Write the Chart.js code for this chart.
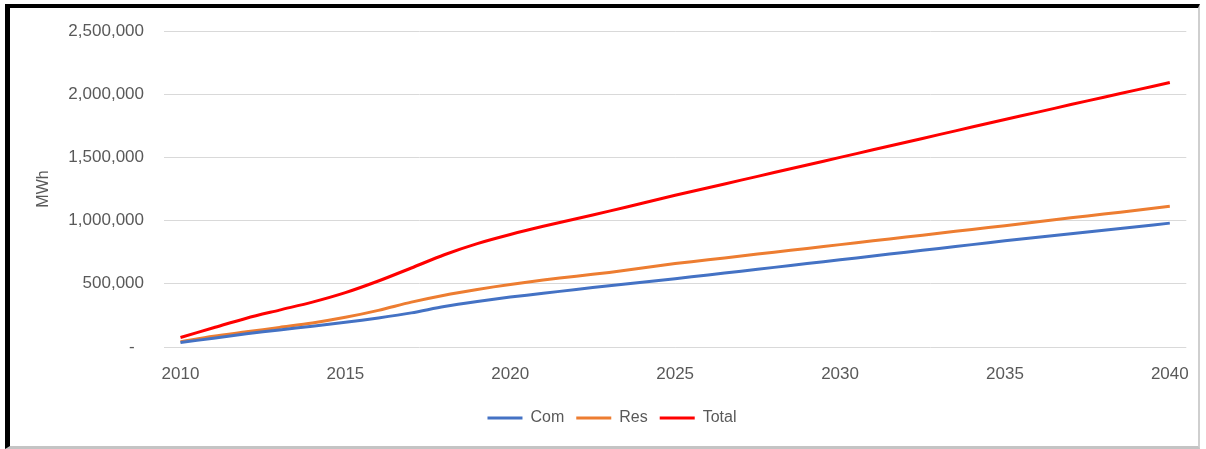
<!DOCTYPE html>
<html>
<head>
<meta charset="utf-8">
<script src="https://cdn.jsdelivr.net/npm/chart.js@4.4.1/dist/chart.umd.min.js"></script>
<style>
  html, body { margin: 0; padding: 0; background: #ffffff; }
  #wrap { position: relative; width: 1206px; height: 449px; overflow: hidden; }
  #c { position: absolute; left: 0; top: 0; }
  #frame {
    position: absolute; left: 5px; top: 4px; width: 1188px; height: 438px;
    border-left: 5px solid #000; border-top: 4px solid #000;
    border-right: 2px solid #cfcfcf; border-bottom: 3px solid #c4c4c4;
    pointer-events: none;
  }
</style>
</head>
<body>
<div id="wrap">
  <canvas id="c" width="1206" height="449"></canvas>
  <div id="frame"></div>
</div>
<script>
// Annual electricity consumption, MWh
const years = [2010, 2011, 2012, 2013, 2014, 2015, 2016, 2017, 2018, 2019, 2020,
               2021, 2022, 2023, 2024, 2025, 2026, 2027, 2028, 2029, 2030,
               2031, 2032, 2033, 2034, 2035, 2036, 2037, 2038, 2039, 2040];

const comValues = [35000, 70000, 105000, 135000, 165000, 195000, 230000, 270000, 320000, 360000, 395000,
                   425000, 455000, 485000, 512000, 540000, 570000, 600000, 630000, 660000, 690000,
                   720000, 750000, 780000, 810000, 840000, 868000, 896000, 924000, 952000, 980000];

const resValues = [42000, 85000, 120000, 155000, 190000, 235000, 290000, 355000, 410000, 455000, 495000,
                   530000, 560000, 590000, 625000, 660000, 690000, 720000, 750000, 780000, 810000,
                   840000, 870000, 900000, 930000, 960000, 990000, 1022000, 1052000, 1082000, 1113000];

const totalValues = [75000, 152000, 228000, 292000, 355000, 430000, 522000, 625000, 730000, 818000, 890000,
                     955000, 1015000, 1075000, 1137000, 1200000, 1260000, 1320000, 1380000, 1440000, 1500000,
                     1560000, 1620000, 1680000, 1740000, 1800000, 1858000, 1918000, 1976000, 2034000, 2093000];

const yTicks = [0, 500000, 1000000, 1500000, 2000000, 2500000];

const seriesNames = ['Com', 'Res', 'Total'];
const seriesColors = ['#4472C4', '#ED7D31', '#FF0000'];

const textColor = '#595959';
const fontFamily = '"Liberation Sans", Arial, sans-serif';

const seriesData = [comValues, resValues, totalValues];

new Chart(document.getElementById('c'), {
  type: 'line',
  data: {
    labels: years.map(String),
    datasets: seriesNames.map((name, i) => ({
      label: name,
      data: seriesData[i],
      borderColor: seriesColors[i],
      backgroundColor: seriesColors[i],
      borderWidth: 3,
      pointRadius: 0,
      tension: 0.3,
      fill: false
    }))
  },
  options: {
    responsive: false,
    animation: false,
    devicePixelRatio: 1,
    layout: { padding: { left: 35, right: 17, top: 31, bottom: 13 } },
    plugins: {
      tooltip: { enabled: false },
      legend: {
        position: 'bottom',
        labels: {
          usePointStyle: true,
          pointStyle: 'line',
          pointStyleWidth: 35,
          boxHeight: 16,
          padding: 12,
          color: textColor,
          font: { family: fontFamily, size: 16 }
        }
      }
    },
    scales: {
      x: {
        offset: true,
        grid: { display: false, drawTicks: false },
        border: { display: false },
        ticks: {
          autoSkip: false,
          maxRotation: 0,
          padding: 17,
          color: textColor,
          font: { family: fontFamily, size: 17 },
          callback: function (value, index) {
            const y = years[index];
            return (y - years[0]) % 5 === 0 ? String(y) : '';
          }
        },
        afterFit: function (scale) { scale.height = 51; }
      },
      y: {
        min: yTicks[0],
        max: yTicks[yTicks.length - 1],
        afterBuildTicks: function (scale) { scale.ticks = yTicks.map(v => ({ value: v })); },
        grid: { color: '#d9d9d9', lineWidth: 1, drawTicks: false },
        border: { display: false },
        ticks: {
          padding: 20,
          color: textColor,
          font: { family: fontFamily, size: 17 },
          callback: function (value) {
            return value === 0 ? '-  ' : value.toLocaleString('en-US');
          }
        },
        title: {
          display: true,
          text: 'MWh',
          color: textColor,
          font: { family: fontFamily, size: 16 },
          padding: { top: -1, bottom: 0 }
        },
        afterFit: function (scale) { scale.width = 129; }
      }
    }
  }
});
</script>
</body>
</html>
